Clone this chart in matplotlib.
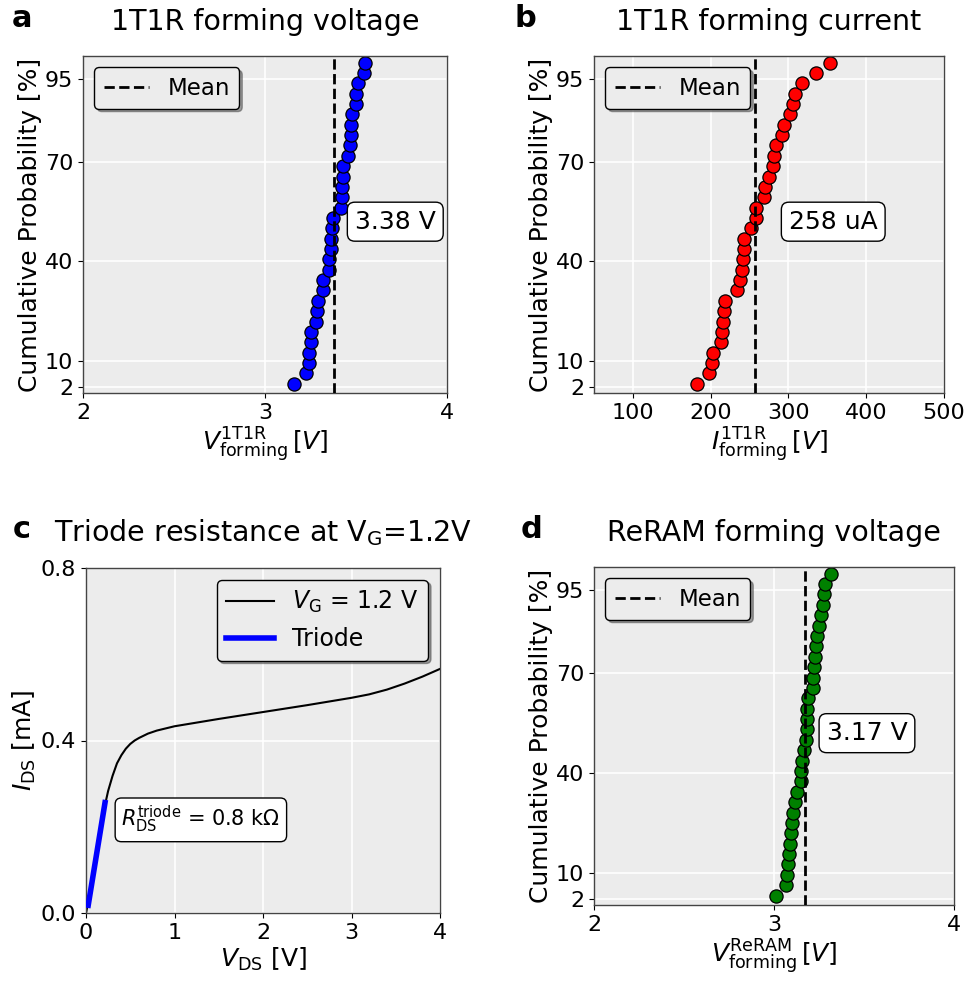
import matplotlib
matplotlib.use("Agg")
import matplotlib.pyplot as plt
import numpy as np

# --- data ---
# panel a: 1T1R forming voltage [V]
v_form_1t1r = [3.157, 3.226, 3.241, 3.243, 3.250, 3.254, 3.281, 3.283, 3.293, 3.320,
               3.320, 3.354, 3.354, 3.361, 3.365, 3.370, 3.374, 3.417, 3.422, 3.422,
               3.426, 3.431, 3.457, 3.468, 3.472, 3.472, 3.478, 3.500, 3.500, 3.510,
               3.543, 3.552]
# panel b: 1T1R forming current [uA]
i_form_1t1r = [183, 198, 202, 203, 213, 215, 216, 217, 218, 234, 238, 240, 242, 243,
               243, 252, 258, 258, 268, 270, 275, 280, 281, 284, 292, 294, 302, 306,
               309, 317, 336, 354]
# panel d: ReRAM forming voltage [V]
v_form_reram = [3.011, 3.067, 3.070, 3.080, 3.083, 3.089, 3.094, 3.102, 3.107, 3.117,
                3.130, 3.150, 3.150, 3.156, 3.168, 3.176, 3.181, 3.181, 3.181, 3.191,
                3.215, 3.219, 3.224, 3.228, 3.233, 3.237, 3.252, 3.261, 3.274, 3.280,
                3.285, 3.317]
# panel c: transistor I-V at V_G = 1.2 V
vds = [0.00, 0.05, 0.10, 0.15, 0.20, 0.25, 0.30, 0.35, 0.40, 0.45, 0.50, 0.55, 0.60,
       0.70, 0.80, 1.00, 1.50, 2.00, 2.50, 3.00, 3.20, 3.40, 3.60, 3.80, 4.00]
ids = [0.000, 0.048, 0.111, 0.174, 0.237, 0.283, 0.318, 0.347, 0.366, 0.381, 0.392,
       0.400, 0.406, 0.416, 0.423, 0.433, 0.450, 0.466, 0.482, 0.499, 0.507, 0.518,
       0.532, 0.548, 0.566]
triode_vds = [0.025, 0.215]
triode_ids = [0.018, 0.256]

prob_ticks = [2, 10, 40, 70, 95]

plt.rcParams.update({
    "font.family": "DejaVu Sans",
    "mathtext.fontset": "dejavusans",
    "font.size": 16,
    "axes.facecolor": "#ececec",
    "axes.edgecolor": "#444444",
    "axes.linewidth": 1.0,
    "xtick.labelsize": 16,
    "ytick.labelsize": 16,
    "axes.labelsize": 18,
    "legend.fontsize": 16.5,
})

W, H = 972, 986
TITLE_SIZE = 20.5
fig = plt.figure(figsize=(W / 100, H / 100), dpi=100)


def px_axes(left, top, right, bottom):
    return fig.add_axes([left / W, 1 - bottom / H, (right - left) / W, (bottom - top) / H])


def style(ax):
    ax.grid(True, color="white", lw=1.2)
    ax.set_axisbelow(True)


def prob_panel(ax, values, colour, xlim, xticks, xlabel, title, fmt, dx):
    values = np.sort(np.asarray(values, dtype=float))
    n = len(values)
    prob = np.arange(1, n + 1) / n * 100  # empirical CDF
    mean = values.mean()
    ax.plot(values, prob, "o", ms=9.5, mfc=colour, mec="black", mew=0.9, zorder=2)
    ax.axvline(mean, color="black", ls="--", lw=2, zorder=3, label="Mean")
    ax.text(mean + dx, 52, fmt.format(mean), fontsize=18, ha="left", va="center",
            zorder=4, bbox=dict(boxstyle="round,pad=0.3", fc="white", ec="black"))
    ax.set_xlim(*xlim)
    ax.set_xticks(xticks)
    ax.set_ylim(0.3, 102)
    ax.set_yticks(prob_ticks)
    ax.set_xlabel(xlabel, labelpad=2)
    ax.set_ylabel("Cumulative Probability [%]", labelpad=2)
    ax.set_title(title, fontsize=TITLE_SIZE, pad=19)
    ax.legend(loc="upper left", shadow=True, fancybox=True, framealpha=1,
              edgecolor="black")
    style(ax)


ax_a = px_axes(83, 56, 447, 393)
prob_panel(ax_a, v_form_1t1r, "blue", (2, 4), [2, 3, 4],
           r"$V_{\mathrm{forming}}^{\mathrm{1T1R}}\,[V]$", "1T1R forming voltage",
           "{:.2f} V", 0.115)

ax_b = px_axes(594, 56, 944, 393)
prob_panel(ax_b, i_form_1t1r, "red", (50, 500), [100, 200, 300, 400, 500],
           r"$I_{\mathrm{forming}}^{\mathrm{1T1R}}\,[V]$", "1T1R forming current",
           "{:.0f} uA", 43)

ax_d = px_axes(594, 567, 954, 905)
prob_panel(ax_d, v_form_reram, "green", (2, 4), [2, 3, 4],
           r"$V_{\mathrm{forming}}^{\mathrm{ReRAM}}\,[V]$", "ReRAM forming voltage",
           "{:.2f} V", 0.12)

# panel c
ax_c = px_axes(86, 568, 440, 913)
ax_c.plot(vds, ids, color="black", lw=1.5, label=r"$V_{\mathrm{G}}$ = 1.2 V", zorder=2)
ax_c.plot(triode_vds, triode_ids, color="blue", lw=4, label="Triode", zorder=3)
r_triode = (triode_vds[1] - triode_vds[0]) / (triode_ids[1] - triode_ids[0])
ax_c.text(0.40, 0.216, r"$R_{\mathrm{DS}}^{\mathrm{triode}}$" + f" = {r_triode:.1f} k\u03a9",
          fontsize=15, ha="left", va="center",
          bbox=dict(boxstyle="round,pad=0.3", fc="white", ec="black"))
ax_c.set_xlim(0, 4)
ax_c.set_ylim(0, 0.8)
ax_c.set_xticks([0, 1, 2, 3, 4])
ax_c.set_yticks([0.0, 0.4, 0.8])
ax_c.set_xlabel(r"$V_{\mathrm{DS}}$ [V]", labelpad=2)
ax_c.set_ylabel(r"$I_{\mathrm{DS}}$ [mA]", labelpad=2)
ax_c.set_title(r"Triode resistance at V$_{\mathrm{G}}$=1.2V", fontsize=TITLE_SIZE, pad=19)
ax_c.legend(loc="upper right", shadow=True, fancybox=True, framealpha=1,
            edgecolor="black", fontsize=17)
style(ax_c)

# panel letters
for letter, x, y in [("a", 22, 27), ("b", 525, 27), ("c", 22, 538), ("d", 531, 538)]:
    fig.text(x / W, 1 - y / H, letter, fontsize=22, fontweight="bold",
             ha="center", va="baseline")

fig.savefig("out.png", dpi=100)
